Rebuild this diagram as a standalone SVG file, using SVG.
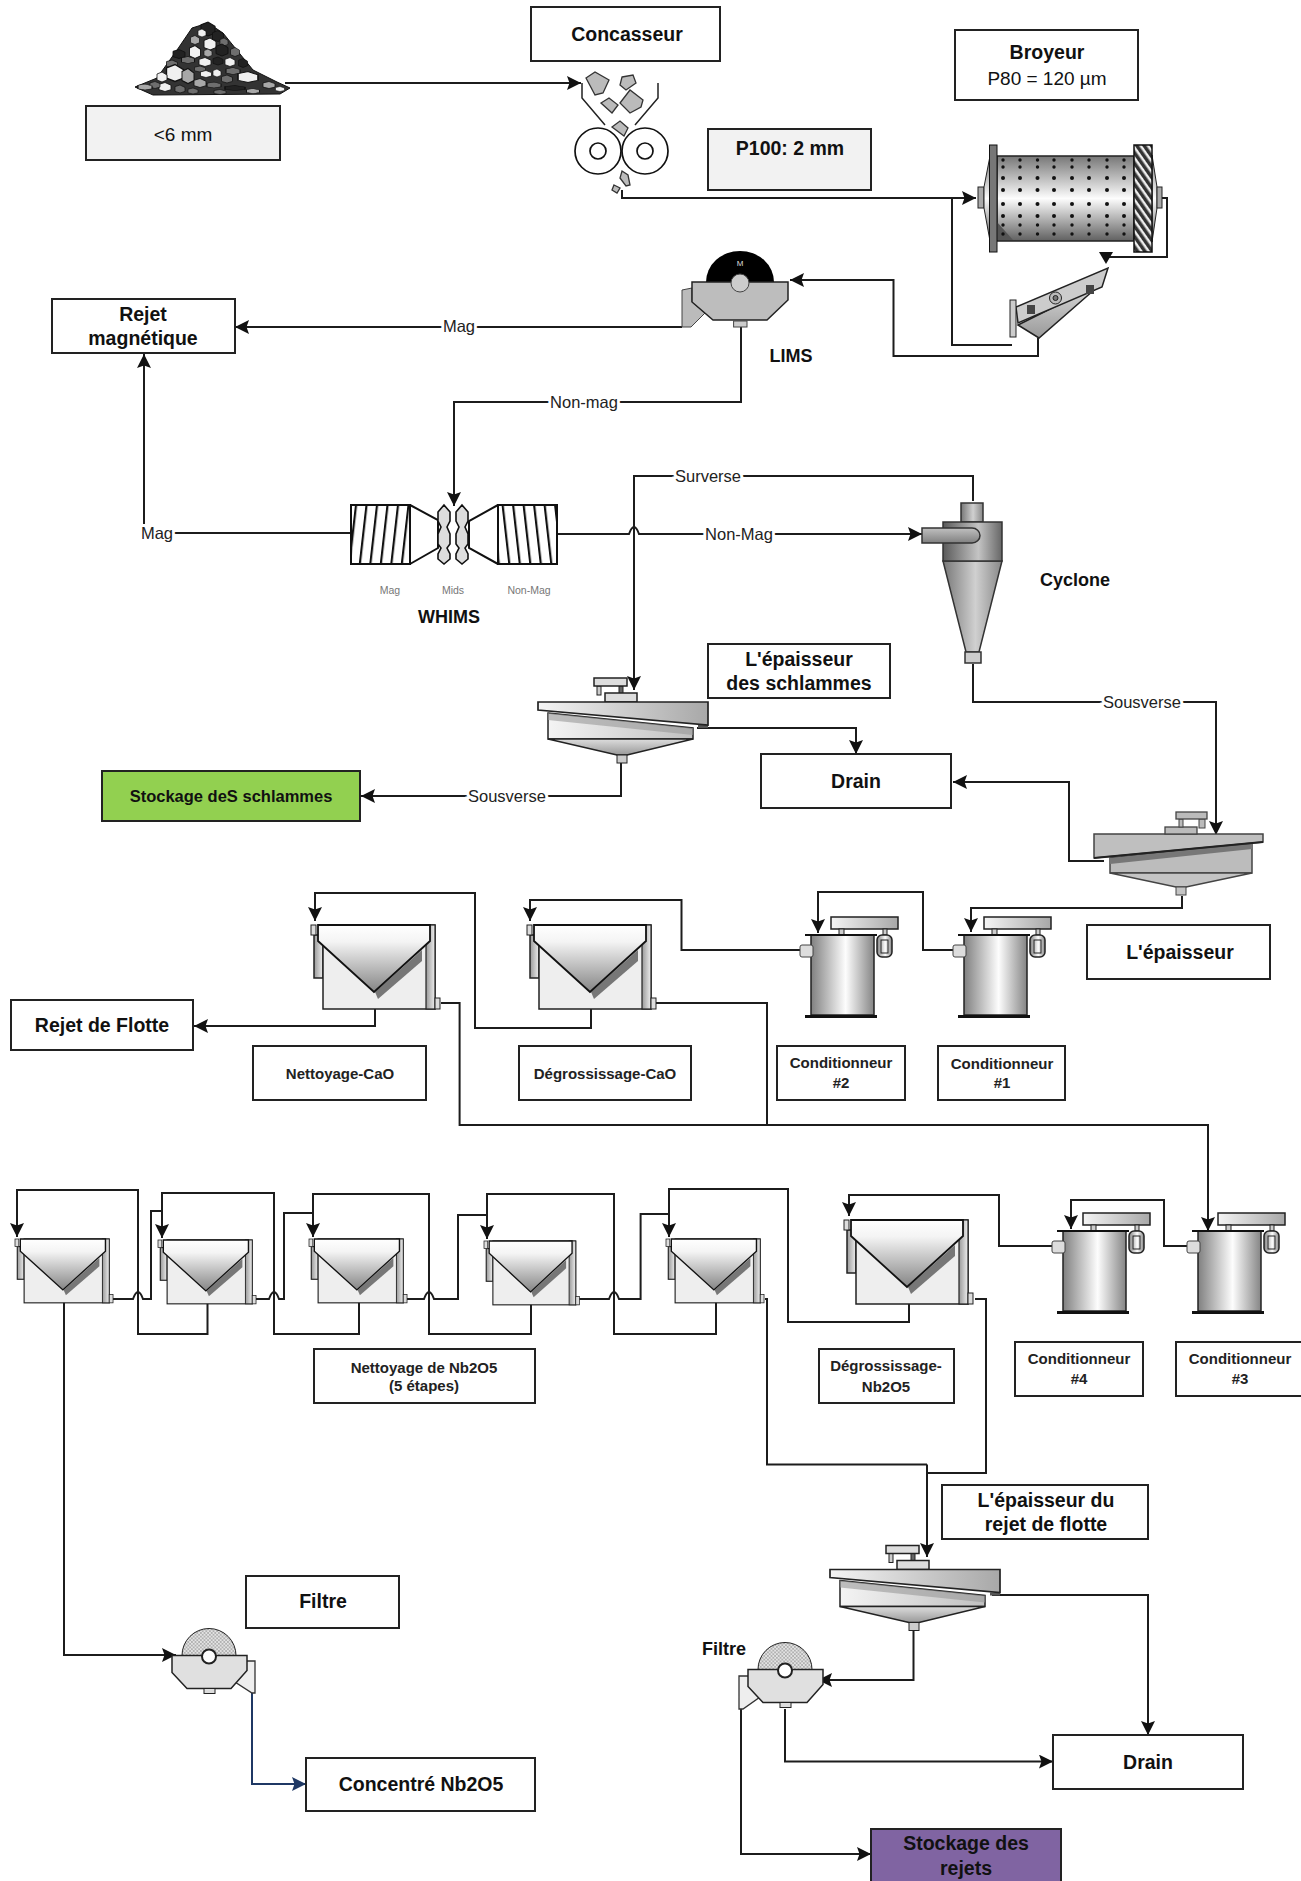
<svg xmlns="http://www.w3.org/2000/svg" width="1301" height="1881" viewBox="0 0 1301 1881">
<style>
text{font-family:"Liberation Sans",Arial,sans-serif;fill:#111;text-anchor:middle;dominant-baseline:central}
.b{font-weight:700;font-size:19.5px}
.m{font-weight:700;font-size:15px;fill:#222}
.n{font-size:19px}
.l{font-size:16.5px;fill:#222;paint-order:stroke;stroke:#fff;stroke-width:6px}
.t{font-size:10.5px;fill:#777}
.box{fill:#fff;stroke:#222;stroke-width:2}
.gb{fill:#f2f2f2;stroke:#222;stroke-width:2}
.w{fill:none;stroke:#1c1c1c;stroke-width:2;stroke-linejoin:miter}
.a{marker-end:url(#ah)}
.r1{fill:#f0f0f0}.r2{fill:#a8a8a8}.r3{fill:#222}.r4{fill:#6e6e6e}
#k polygon{stroke:#111;stroke-width:.8}
</style>
<defs>
<marker id="ah" markerUnits="userSpaceOnUse" markerWidth="15" markerHeight="14" refX="14" refY="7" orient="auto"><path d="M0,0L14,7L0,14L2.5,7z" fill="#111"/></marker>
<marker id="ab" markerUnits="userSpaceOnUse" markerWidth="15" markerHeight="14" refX="14" refY="7" orient="auto"><path d="M0,0L14,7L0,14L2.5,7z" fill="#1f3864"/></marker>
<linearGradient id="gh"><stop offset="0" stop-color="#808080"/><stop offset=".55" stop-color="#fdfdfd"/><stop offset="1" stop-color="#858585"/></linearGradient>
<linearGradient id="gy"><stop offset="0" stop-color="#5a5a5a"/><stop offset=".6" stop-color="#c4c4c4"/><stop offset="1" stop-color="#666"/></linearGradient>
<linearGradient id="gz"><stop offset="0" stop-color="#777"/><stop offset=".55" stop-color="#d0d0d0"/><stop offset="1" stop-color="#888"/></linearGradient>
<linearGradient id="gi" x2="0" y2="1"><stop offset="0" stop-color="#c0c0c0"/><stop offset="1" stop-color="#808080"/></linearGradient>
<linearGradient id="gv" x2="0" y2="1"><stop offset="0" stop-color="#777"/><stop offset=".5" stop-color="#fdfdfd"/><stop offset="1" stop-color="#606060"/></linearGradient>
<linearGradient id="gc" x2="0" y2="1"><stop offset="0" stop-color="#fff"/><stop offset=".25" stop-color="#f4f4f4"/><stop offset="1" stop-color="#858585"/></linearGradient>
<linearGradient id="gd"><stop offset="0" stop-color="#f4f4f4"/><stop offset="1" stop-color="#a8a8a8"/></linearGradient>
<linearGradient id="gt"><stop offset="0" stop-color="#f4f4f4"/><stop offset="1" stop-color="#c0c0c0"/></linearGradient>
<linearGradient id="gk" x2="0" y2="1"><stop offset="0" stop-color="#ddd"/><stop offset="1" stop-color="#999"/></linearGradient>
<linearGradient id="gw"><stop offset="0" stop-color="#999"/><stop offset="1" stop-color="#eee"/></linearGradient>
<pattern id="hatch" width="6" height="6" patternUnits="userSpaceOnUse" patternTransform="rotate(-35)"><rect width="6" height="6" fill="#eee"/><rect width="3.5" height="6" fill="#333"/></pattern>
<pattern id="coilL" width="10.5" height="60" patternUnits="userSpaceOnUse" patternTransform="skewX(-6.5) translate(3,0)"><rect width="10.5" height="60" fill="#fff"/><rect width="2.2" height="60" fill="#111"/></pattern>
<pattern id="coilR" width="10.5" height="60" patternUnits="userSpaceOnUse" patternTransform="skewX(6.5) translate(3,0)"><rect width="10.5" height="60" fill="#fff"/><rect width="2.2" height="60" fill="#111"/></pattern>
<pattern id="stip" width="3.6" height="3.6" patternUnits="userSpaceOnUse"><rect width="3.6" height="3.6" fill="#e4e4e4"/><circle cx=".9" cy=".9" r=".7" fill="#666"/><circle cx="2.7" cy="2.7" r=".7" fill="#666"/></pattern>
<g id="k"><polygon points="-5,-3 0,-5 5,-2 5,3 0,5 -5,3"/></g>
<g id="dots" fill="#111"><circle cy="160" r="1.7"/><circle cy="167" r="1.7"/><circle cy="178" r="2"/><circle cy="190" r="2"/><circle cy="204" r="2"/><circle cy="216" r="2"/><circle cy="225" r="1.7"/><circle cy="234" r="1.7"/></g>
<g id="cell">
<rect x="3" y="10" width="9" height="43" fill="url(#gw)" stroke="#222" stroke-width="1.5"/>
<rect x="12" y="0" width="112" height="84" fill="#eee" stroke="#222" stroke-width="1.5"/>
<rect x="115" y="0" width="9" height="84" fill="url(#gw)" stroke="#222" stroke-width="1.2"/>
<rect x="0" y="0" width="5" height="10" fill="#ddd" stroke="#222"/>
<polygon points="111,25 111,36 67,74 64,67" fill="#777"/>
<polygon points="7,0 119,0 119,16 63,67 7,16" fill="url(#gc)" stroke="#111" stroke-width="1.8"/>
<rect x="124" y="73" width="5" height="11" fill="#ddd" stroke="#222"/>
</g>
<g id="cond">
<rect x="31" y="0" width="67" height="12" fill="url(#gd)" stroke="#222" stroke-width="1.5"/>
<rect x="39" y="12" width="5" height="6" fill="#ccc" stroke="#222"/>
<rect x="83" y="12" width="4" height="6" fill="#ccc" stroke="#222"/>
<rect x="77" y="18" width="15" height="22" rx="5" fill="url(#gh)" stroke="#222" stroke-width="1.5"/>
<rect x="81" y="23" width="7" height="13" fill="none" stroke="#222"/>
<rect x="11" y="18" width="63" height="80" fill="url(#gh)" stroke="#222" stroke-width="1.5"/>
<rect x="5" y="17" width="72" height="2" fill="#111"/>
<rect x="5" y="98" width="72" height="3" fill="#111"/>
<rect x="0" y="28" width="13" height="12" rx="2" fill="#ddd" stroke="#444"/>
</g>
<g id="thick">
<rect x="59" y="7" width="4" height="9" fill="#ccc" stroke="#222"/>
<rect x="81" y="7" width="4" height="8" fill="#666" stroke="#222"/>
<rect x="56" y="-1" width="33" height="8" fill="#ddd" stroke="#222" stroke-width="1.5"/>
<rect x="67" y="14" width="32" height="9" fill="#ddd" stroke="#222" stroke-width="1.5"/>
<polygon points="10,34 155,49 155,60 10,60" fill="url(#gt)" stroke="#222" stroke-width="1.5"/>
<polygon points="10,34 155,49 155,56 10,41" fill="#999" opacity=".6"/>
<polygon points="10,60 155,60 89,76 79,76" fill="url(#gk)" stroke="#222" stroke-width="1.5"/>
<rect x="79" y="76" width="10" height="8" fill="#ccc" stroke="#222"/>
<rect x="160" y="46" width="10" height="3" fill="#555"/>
<polygon points="0,23 170,23 170,46 0,31" fill="url(#gd)" stroke="#222" stroke-width="1.7"/>
</g>
<g id="filt">
<path d="M-27,0A27,27 0 0 1 27,0Z" fill="url(#stip)" stroke="#222"/>
<polygon points="-37,0 38,0 38,15 22,33 -22,33 -37,17" fill="#e0e0e0" stroke="#222" stroke-width="1.5"/>
<rect x="-5" y="33" width="11" height="5" fill="#ddd" stroke="#222"/>
<circle cx="0" cy="1" r="7" fill="#fff" stroke="#222" stroke-width="2"/>
</g>
</defs>

<g id="connectors">
<path class="w a" d="M285,83H581"/>
<path class="w a" d="M622,190V198H976"/>
<path class="w" d="M952,198V345H1012"/>
<path class="w" d="M1162,198H1167V257H1106"/>
<polygon points="1099,252 1113,252 1106,264" fill="#111"/>
<path class="w a" d="M1038,338V356H893.5V280H790"/>
<path class="w a" d="M682,327H235"/>
<path class="w a" d="M741,327V402H454V506"/>
<path class="w a" d="M351,533H144V354"/>
<path class="w a" d="M558,534H629q5,-14 10,0H922"/>
<path class="w a" d="M973,501V476H634V690"/>
<path class="w a" d="M973,664V702H1216V835"/>
<path class="w a" d="M697,728H856V754"/>
<path class="w a" d="M621,763V796H361"/>
<path class="w a" d="M1104,861H1069V782H953"/>
<path class="w a" d="M1182,896V908H971V932"/>
<path class="w a" d="M800,950H681.5V900H530V921"/>
<path class="w a" d="M953,950H923V892H818V933"/>
<path class="w a" d="M375,994V1026H194"/>
<path class="w a" d="M591,994V1028H475V893H315V921"/>
<path class="w a" d="M441,1003H459.6V1125H1208V1231"/>
<path class="w" d="M656,1003H767V1125"/>
<path class="w a" d="M1054,1246H999V1195H849V1216"/>
<path class="w a" d="M1190,1246H1164V1200H1071V1229"/>
<path class="w a" d="M909,1288V1322H788V1189H669V1237"/>
<path class="w a" d="M207.5,1291V1334H138V1190H17V1237"/>
<path class="w a" d="M359,1291V1334H274V1193H162V1238"/>
<path class="w a" d="M531,1291V1334H429V1194H313V1237"/>
<path class="w a" d="M716,1291V1334H614V1194H487V1239"/>
<path class="w" d="M112,1299H133q5,-14 10,0H151V1211H162"/>
<path class="w" d="M255,1299H269q5,-14 10,0H284V1213H313"/>
<path class="w" d="M407,1299H424q5,-14 10,0H458V1215H487"/>
<path class="w" d="M579,1299H609q5,-14 10,0H640.6V1214H669"/>
<path class="w a" d="M64,1291V1655H176"/>
<path class="w" d="M765,1299H767V1464.5H927"/>
<path class="w" d="M975,1299H986V1473H927"/>
<path class="w a" d="M927,1464.5V1557"/>
<path class="w a" d="M992,1595H1148V1735"/>
<path class="w a" d="M913.5,1630V1680H818"/>
<path class="w a" d="M785,1709V1761.6H1053"/>
<path class="w a" d="M741,1709V1854H871"/>
<path fill="none" stroke="#1f3864" stroke-width="2" marker-end="url(#ab)" d="M252,1693V1784H306"/>
<text class="l" x="459" y="326">Mag</text>
<text class="l" x="584" y="402">Non-mag</text>
<text class="l" x="157" y="533">Mag</text>
<text class="l" x="708" y="476">Surverse</text>
<text class="l" x="739" y="534">Non-Mag</text>
<text class="l" x="1142" y="702">Sousverse</text>
<text class="l" x="507" y="796">Sousverse</text>
</g>

<g id="pile">
<polygon points="192,28 208,23 223,33 253,70 277,82 290,88 280,94 153,95 135,87 157,78 177,50" fill="#333" stroke="#111"/>
<use href="#k" class="r3" transform="translate(208,29) scale(1.4)"/>
<use href="#k" class="r1" transform="translate(202,33) scale(.8)"/>
<use href="#k" class="r3" transform="translate(218,36) scale(1.1)"/>
<use href="#k" class="r2" transform="translate(195,40) scale(.9)"/>
<use href="#k" class="r1" transform="translate(210,44) scale(1.2)"/>
<use href="#k" class="r4" transform="translate(224,42) scale(.8)"/>
<use href="#k" class="r1" transform="translate(195,52) scale(1.1,1.3)"/>
<use href="#k" class="r3" transform="translate(222,50) scale(1.2)"/>
<use href="#k" class="r4" transform="translate(235,52) scale(.9)"/>
<use href="#k" class="r2" transform="translate(208,53) scale(.8)"/>
<use href="#k" class="r3" transform="translate(179,54) scale(1.2,.9)"/>
<use href="#k" class="r4" transform="translate(188,60) scale(1.3,.7)"/>
<use href="#k" class="r1" transform="translate(205,62) scale(1.2,.9)"/>
<use href="#k" class="r1" transform="translate(230,62) scale(1,.9)"/>
<use href="#k" class="r3" transform="translate(218,61) scale(1,.8)"/>
<use href="#k" class="r4" transform="translate(172,64) scale(1.1,.8)"/>
<use href="#k" class="r3" transform="translate(243,63) scale(.9)"/>
<use href="#k" class="r1" transform="translate(175,73) scale(1.7)"/>
<use href="#k" class="r2" transform="translate(188,76) scale(1.2,1.5)"/>
<use href="#k" class="r1" transform="translate(162,77) scale(1)"/>
<use href="#k" class="r4" transform="translate(200,69) scale(1.1,.6)"/>
<use href="#k" class="r1" transform="translate(206,74) scale(1.1,.7)"/>
<use href="#k" class="r1" transform="translate(217,73) scale(.8)"/>
<use href="#k" class="r4" transform="translate(233,71) scale(1.4,.7)"/>
<use href="#k" class="r1" transform="translate(248,77) scale(2,1.1)"/>
<use href="#k" class="r4" transform="translate(227,79) scale(1.1,.8)"/>
<use href="#k" class="r2" transform="translate(200,83) scale(1.2,.9)"/>
<use href="#k" class="r4" transform="translate(214,85) scale(1.4,.6)"/>
<use href="#k" class="r3" transform="translate(235,88) scale(2,.5)"/>
<use href="#k" class="r1" transform="translate(165,87) scale(1.2,.9)"/>
<use href="#k" class="r4" transform="translate(155,85) scale(1,.7)"/>
<use href="#k" class="r2" transform="translate(145,87) scale(1.4,.6)"/>
<use href="#k" class="r4" transform="translate(180,89) scale(1,.8)"/>
<use href="#k" class="r2" transform="translate(253,91) scale(1.3,.5)"/>
<use href="#k" class="r2" transform="translate(269,85) scale(1.2,.7)"/>
<use href="#k" class="r4" transform="translate(193,91) scale(1,.6)"/>
<use href="#k" class="r1" transform="translate(280,89) scale(.9,.5)"/>
<use href="#k" class="r4" transform="translate(220,92) scale(1.2,.5)"/>
</g>
<g id="pile-label"><rect class="gb" x="86" y="106" width="194" height="54"/><text class="n" x="183" y="134">&lt;6 mm</text></g>

<g id="concasseur"><rect class="box" x="531" y="7" width="189" height="54"/><text class="b" x="627" y="34">Concasseur</text></g>
<g id="crusher">
<path d="M582,83V98L605,125M658,83V98L635,125" fill="none" stroke="#222" stroke-width="1.5"/>
<g fill="#bbb" stroke="#333" stroke-width="1.3">
<polygon points="586,78 595,72 609,80 603,93 595,95"/>
<polygon points="622,77 633,75 636,83 626,90 620,85"/>
<polygon points="601,103 609,98 618,105 612,113"/>
<polygon points="620,103 630,90 643,100 641,107 630,113"/>
<polygon points="612,127 620,121 628,128 624,136"/>
<polygon points="622,171 628,175 630,185 626,186 620,178"/>
<polygon points="614,185 620,188 617,193 612,190"/>
</g>
<g fill="#fff" stroke="#111" stroke-width="1.7"><circle cx="598" cy="151" r="23"/><circle cx="598" cy="151" r="8"/><circle cx="645" cy="151" r="23"/><circle cx="645" cy="151" r="8"/></g>
</g>
<g id="p100"><rect class="gb" x="708" y="129" width="163" height="61"/><text class="b" x="790" y="148">P100: 2 mm</text></g>
<g id="broyeur-label"><rect class="box" x="955" y="30" width="183" height="70"/><text class="b" x="1047" y="52">Broyeur</text><text class="n" x="1047" y="78">P80 = 120 µm</text></g>

<g id="mill">
<rect x="978" y="187" width="6" height="21" fill="#aaa" stroke="#222"/>
<polygon points="984,187 990,156 990,241 984,208" fill="url(#gv)" stroke="#222"/>
<polygon points="1152,155 1157,187 1157,208 1152,242" fill="url(#gv)" stroke="#222"/>
<rect x="1157" y="187" width="5" height="21" fill="#aaa" stroke="#222"/>
<rect x="997" y="156" width="137" height="85" fill="url(#gv)" stroke="#222" stroke-width="1.5"/>
<polygon points="997,222 1013,240 997,240" fill="#555"/>
<use href="#dots" x="1003"/><use href="#dots" x="1020"/><use href="#dots" x="1037.5"/><use href="#dots" x="1054"/><use href="#dots" x="1072"/><use href="#dots" x="1089"/><use href="#dots" x="1107"/><use href="#dots" x="1124"/>
<rect x="989.5" y="145" width="7.5" height="107" fill="#777" stroke="#111"/>
<rect x="1134" y="145" width="18" height="107" fill="url(#hatch)" stroke="#111" stroke-width="1.5"/>
</g>
<g id="screen">
<polygon points="1018,325 1102,283 1039,338" fill="url(#gk)" stroke="#222" stroke-width="1.5"/>
<polygon points="1016,307 1108,268 1102,287 1018,323" fill="#ccc" stroke="#222" stroke-width="1.5"/>
<rect x="1010" y="300" width="6" height="37" fill="#ccc" stroke="#222"/>
<circle cx="1055.5" cy="298" r="6" fill="#bbb" stroke="#222"/><circle cx="1055.5" cy="298" r="2.5" fill="#777" stroke="#222"/>
<rect x="1027" y="305" width="8" height="9" fill="#444"/><rect x="1086" y="285" width="8" height="9" fill="#444"/>
</g>
<g id="lims">
<polygon points="682,290 692,288 692,302 705,313 691,327 682,327" fill="#bbb" stroke="#444"/>
<path d="M706,282A34,31 0 0 1 774,282Z" fill="#000"/>
<polygon points="692,282 788,282 788,300 767,320 713,320 692,302" fill="#bdbdbd" stroke="#222" stroke-width="1.5"/>
<rect x="733.6" y="321" width="13.4" height="6" fill="#ccc" stroke="#444"/>
<circle cx="740" cy="283" r="9" fill="#ccc" stroke="#444"/>
<text x="740" y="263" font-size="8" style="fill:#ddd">M</text>
<text class="b" x="791" y="356" style="font-size:18px">LIMS</text>
</g>
<g id="rejet-mag"><rect class="box" x="52" y="299" width="183" height="54"/><text class="b" x="143" y="314">Rejet</text><text class="b" x="143" y="338">magnétique</text></g>

<g id="whims">
<rect x="351" y="505" width="59" height="59" fill="url(#coilL)" stroke="#111" stroke-width="2"/>
<rect x="498" y="505" width="59" height="59" fill="url(#coilR)" stroke="#111" stroke-width="2"/>
<path d="M410,505L438,520V548L410,564M498,505L469,521V548L498,564" fill="none" stroke="#111" stroke-width="2"/>
<polygon points="444,505 450,512 450,521 447,527 450,534 450,544 447,548 450,554 450,559 444,564 438,559 438,554 441,548 438,544 438,534 441,527 438,521 438,512" fill="#ddd" stroke="#111" stroke-width="1.6"/>
<polygon points="462,505 468,512 468,521 465,527 468,534 468,544 465,548 468,554 468,559 462,564 456,559 456,554 459,548 456,544 456,534 459,527 456,521 456,512" fill="#ddd" stroke="#111" stroke-width="1.6"/>
<text class="t" x="390" y="590">Mag</text><text class="t" x="453" y="590">Mids</text><text class="t" x="529" y="590">Non-Mag</text>
<text class="b" x="449" y="617" style="font-size:18px">WHIMS</text>
</g>
<g id="cyclone">
<polygon points="943,561 1002,561 979,652 966,652" fill="url(#gz)" stroke="#333" stroke-width="1.5"/>
<rect x="961" y="503" width="22" height="19" fill="url(#gz)" stroke="#333" stroke-width="1.5"/>
<rect x="943" y="522" width="59" height="39" fill="url(#gy)" stroke="#333" stroke-width="1.5"/>
<path d="M922,528H972a8,7.5 0 0 1 0,15H922Z" fill="url(#gi)" stroke="#333" stroke-width="1.5"/>
<rect x="965" y="652" width="16" height="11" fill="#ccc" stroke="#333" stroke-width="1.5"/>
<text class="b" x="1075" y="580" style="font-size:18px">Cyclone</text>
</g>

<g id="thick-schlammes"><use href="#thick" x="538" y="679"/></g>
<g id="thick-schlammes-label"><rect class="box" x="708" y="644" width="182" height="54"/><text class="b" x="799" y="659">L'épaisseur</text><text class="b" x="799" y="683">des schlammes</text></g>
<g id="drain1"><rect class="box" x="761" y="754" width="190" height="54"/><text class="b" x="856" y="781">Drain</text></g>
<g id="stock-schl"><rect x="102" y="771" width="258" height="50" fill="#92d050" stroke="#222" stroke-width="2"/><text class="b" x="231" y="796" style="font-size:16.5px">Stockage deS schlammes</text></g>
<g id="thick2">
<polygon points="1110,858 1252,843 1252,873 1110,873" fill="#bcbcbc" stroke="#444" stroke-width="1.5"/>
<polygon points="1110,858 1252,843 1252,849 1110,864" fill="#777"/>
<polygon points="1110,873 1252,873 1186,887 1176,887" fill="#c4c4c4" stroke="#444" stroke-width="1.5"/>
<rect x="1176" y="887" width="10" height="8" fill="#c4c4c4" stroke="#444"/>
<polygon points="1094,834 1263,834 1263,842 1094,858" fill="#bfbfbf" stroke="#444" stroke-width="1.5"/>
<path d="M1094,858L1263,842" stroke="#222" stroke-width="2"/>
<rect x="1165" y="827" width="32" height="7" fill="#bbb" stroke="#444" stroke-width="1.3"/>
<rect x="1179" y="819" width="4" height="8" fill="#bbb" stroke="#444"/>
<rect x="1199" y="819" width="6" height="9" fill="#bbb" stroke="#444"/>
<rect x="1176" y="812" width="31" height="7" fill="#bbb" stroke="#444" stroke-width="1.3"/>
</g>
<g id="epaisseur-label"><rect class="box" x="1087" y="925" width="183" height="54"/><text class="b" x="1180" y="952">L'épaisseur</text></g>

<g id="cell-nett-cao"><use href="#cell" x="311" y="925"/></g>
<g id="cell-degr-cao"><use href="#cell" x="527" y="925"/></g>
<g id="cond2"><use href="#cond" x="800" y="917"/></g>
<g id="cond1"><use href="#cond" x="953" y="917"/></g>
<g id="rejet-flotte"><rect class="box" x="11" y="1000" width="182" height="50"/><text class="b" x="102" y="1025">Rejet de Flotte</text></g>
<g id="nett-cao"><rect class="box" x="253" y="1046" width="173" height="54"/><text class="m" x="340" y="1073">Nettoyage-CaO</text></g>
<g id="degr-cao"><rect class="box" x="519" y="1046" width="172" height="54"/><text class="m" x="605" y="1073">Dégrossissage-CaO</text></g>
<g id="cond2-label"><rect class="box" x="777" y="1046" width="128" height="54"/><text class="m" x="841" y="1062">Conditionneur</text><text class="m" x="841" y="1082">#2</text></g>
<g id="cond1-label"><rect class="box" x="938" y="1046" width="127" height="54"/><text class="m" x="1002" y="1063">Conditionneur</text><text class="m" x="1002" y="1082">#1</text></g>

<g id="cell-c1"><use href="#cell" transform="translate(15,1239) scale(.76)"/></g>
<g id="cell-c2"><use href="#cell" transform="translate(158,1240) scale(.76)"/></g>
<g id="cell-c3"><use href="#cell" transform="translate(309,1239) scale(.76)"/></g>
<g id="cell-c4"><use href="#cell" transform="translate(484,1241) scale(.74,.76)"/></g>
<g id="cell-c5"><use href="#cell" transform="translate(666,1239) scale(.76)"/></g>
<g id="cell-degr-nb"><use href="#cell" x="844" y="1220"/></g>
<g id="cond4"><use href="#cond" x="1052" y="1213"/></g>
<g id="cond3"><use href="#cond" x="1187" y="1213"/></g>
<g id="nett-nb"><rect class="box" x="314" y="1349" width="221" height="54"/><text class="m" x="424" y="1367">Nettoyage de Nb2O5</text><text class="m" x="424" y="1385">(5 étapes)</text></g>
<g id="degr-nb"><rect class="box" x="819" y="1349" width="135" height="54"/><text class="m" x="886" y="1365">Dégrossissage-</text><text class="m" x="886" y="1386">Nb2O5</text></g>
<g id="cond4-label"><rect class="box" x="1015" y="1342" width="128" height="54"/><text class="m" x="1079" y="1358">Conditionneur</text><text class="m" x="1079" y="1378">#4</text></g>
<g id="cond3-label"><rect class="box" x="1176" y="1342" width="126" height="54"/><text class="m" x="1240" y="1358">Conditionneur</text><text class="m" x="1240" y="1378">#3</text></g>

<g id="thick3"><use href="#thick" x="830" y="1546.5"/></g>
<g id="thick3-label"><rect class="box" x="942" y="1485" width="206" height="54"/><text class="b" x="1046" y="1500">L'épaisseur du</text><text class="b" x="1046" y="1524">rejet de flotte</text></g>
<g id="filtre1-label"><rect class="box" x="246" y="1576" width="153" height="52"/><text class="b" x="323" y="1601">Filtre</text></g>
<g id="filtre1">
<polygon points="247,1661 255,1661 255,1693 252,1693 235,1682" fill="#eee" stroke="#333" stroke-width="1.3"/>
<use href="#filt" x="209" y="1655.5"/>
</g>
<g id="concentre"><rect class="box" x="306" y="1758" width="229" height="53"/><text class="b" x="421" y="1784">Concentré Nb2O5</text></g>
<g id="filtre2">
<polygon points="748,1676 739,1676 739,1709 743,1709 760,1697" fill="#eee" stroke="#333" stroke-width="1.3"/>
<use href="#filt" x="785" y="1669.5"/>
<text class="b" x="724" y="1649" style="font-size:18px">Filtre</text>
</g>
<g id="drain2"><rect class="box" x="1053" y="1735" width="190" height="54"/><text class="b" x="1148" y="1762">Drain</text></g>
<g id="stock-rejets"><rect x="871" y="1829" width="190" height="53" fill="#8064a2" stroke="#222" stroke-width="2"/><text class="b" x="966" y="1843">Stockage des</text><text class="b" x="966" y="1868">rejets</text></g>
</svg>
